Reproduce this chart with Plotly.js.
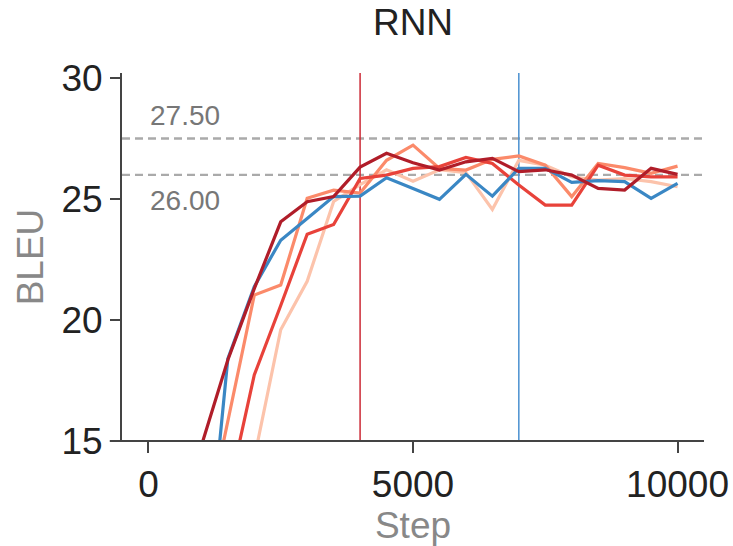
<!DOCTYPE html>
<html>
<head>
<meta charset="utf-8">
<script src="https://cdn.plot.ly/plotly-3.0.1.min.js"></script>
<style>html,body{margin:0;padding:0;background:#fff}#chart{width:733px;height:546px}</style>
</head>
<body>
<div id="chart"></div>
<script>
// Data (BLEU vs training step)
const steps = [1000,1500,2000,2500,3000,3500,4000,4500,5000,5500,6000,6500,7000,7500,8000,8500,9000,9500,10000];
const runDarkRed = [14.8,18.35,21.3,24.06,24.89,25.1,26.32,26.89,26.5,26.2,26.54,26.68,26.13,26.21,25.99,25.44,25.37,26.27,26.02];
const runBlue    = [7.2,18.4,21.38,23.3,24.2,25.1,25.12,25.88,25.44,24.99,26.02,25.12,26.27,26.27,25.69,25.76,25.72,25.03,25.65];
const runSalmon  = [10.6,15.8,21.03,21.45,25.03,25.37,25.25,26.6,27.23,26.27,26.2,26.64,26.78,26.4,25.1,26.47,26.3,26.06,26.36];
const runRed     = [null,12.75,17.73,20.6,23.55,23.95,25.85,25.99,26.27,26.34,26.72,26.47,25.58,24.75,24.75,26.4,25.99,25.92,25.92];
const runPeach   = [null,null,14.28,19.6,21.6,24.9,25.6,26.21,25.74,26.21,26.09,24.57,26.6,26.4,25.92,25.78,25.85,25.72,25.51];
const refLines = [27.5, 26.0];
const refLabels = ["27.50", "26.00"];
const vLines = [4000, 7000];
const xTicks = [0, 5000, 10000];
const yTicks = [15, 20, 25, 30];

const FONT = "Liberation Sans, Arial, sans-serif";
const series = [
  {y: runPeach, color: "#fcc3ab"},
  {y: runSalmon, color: "#fb8a6a"},
  {y: runRed, color: "#e8423a"},
  {y: runBlue, color: "#3a87c4"},
  {y: runDarkRed, color: "#b01d29"}
];
const traces = series.map(s => ({
  x: steps, y: s.y, type: "scatter", mode: "lines",
  line: {color: s.color, width: 3.2}, hoverinfo: "skip", showlegend: false,
  connectgaps: false
}));

const shapes = [];
refLines.forEach(v => shapes.push({type: "line", xref: "paper", x0: 0, x1: 1, yref: "y", y0: v, y1: v,
  line: {color: "#aaaaaa", width: 2.4, dash: "8px,5px"}, layer: "below"}));
shapes.push({type: "line", xref: "x", x0: vLines[0], x1: vLines[0], yref: "paper", y0: 0, y1: 1,
  line: {color: "#cc2a36", width: 1.5}, layer: "below"});
shapes.push({type: "line", xref: "x", x0: vLines[1], x1: vLines[1], yref: "paper", y0: 0, y1: 1,
  line: {color: "#4a90d0", width: 1.5}, layer: "below"});
// x-axis line extending slightly left of the y spine
shapes.push({type: "line", xref: "paper", x0: -0.021, x1: 1, yref: "paper", y0: 0, y1: 0,
  line: {color: "#444444", width: 2}});

const annotations = [
  {xref: "x", x: 0, yref: "y", y: refLines[0], text: refLabels[0], showarrow: false,
   xanchor: "left", yanchor: "bottom", yshift: 6, font: {family: FONT, size: 28, color: "#777777"}},
  {xref: "x", x: 0, yref: "y", y: refLines[1], text: refLabels[1], showarrow: false,
   xanchor: "left", yanchor: "top", yshift: -8, font: {family: FONT, size: 28, color: "#777777"}}
];

const layout = {
  width: 733, height: 546,
  margin: {l: 122, r: 29, t: 73, b: 105},
  paper_bgcolor: "#ffffff", plot_bgcolor: "#ffffff",
  font: {family: FONT, color: "#222222"},
  title: {text: "RNN", font: {family: FONT, size: 37, color: "#222222"},
          x: 0.5, xref: "paper", y: 0.96, yref: "container", yanchor: "middle"},
  xaxis: {
    range: [-500, 10500], tickvals: xTicks, ticktext: xTicks.map(String),
    showgrid: false, zeroline: false, showline: false,
    ticks: "outside", ticklen: 11, tickwidth: 2, tickcolor: "#444444",
    tickfont: {family: FONT, size: 37, color: "#222222"},
    title: {text: "Step", font: {family: FONT, size: 37, color: "#888888"}, standoff: 4}
  },
  yaxis: {
    range: [15, 30.21], tickvals: yTicks, ticktext: yTicks.map(String),
    showgrid: false, zeroline: false, showline: true, linecolor: "#444444", linewidth: 2,
    ticks: "outside", ticklen: 10, tickwidth: 2, tickcolor: "#444444",
    tickfont: {family: FONT, size: 37, color: "#222222"},
    title: {text: "BLEU", font: {family: FONT, size: 37, color: "#888888"}, standoff: 6}
  },
  shapes: shapes, annotations: annotations, showlegend: false
};
Plotly.newPlot("chart", traces, layout, {displayModeBar: false, staticPlot: true});
</script>
</body>
</html>
